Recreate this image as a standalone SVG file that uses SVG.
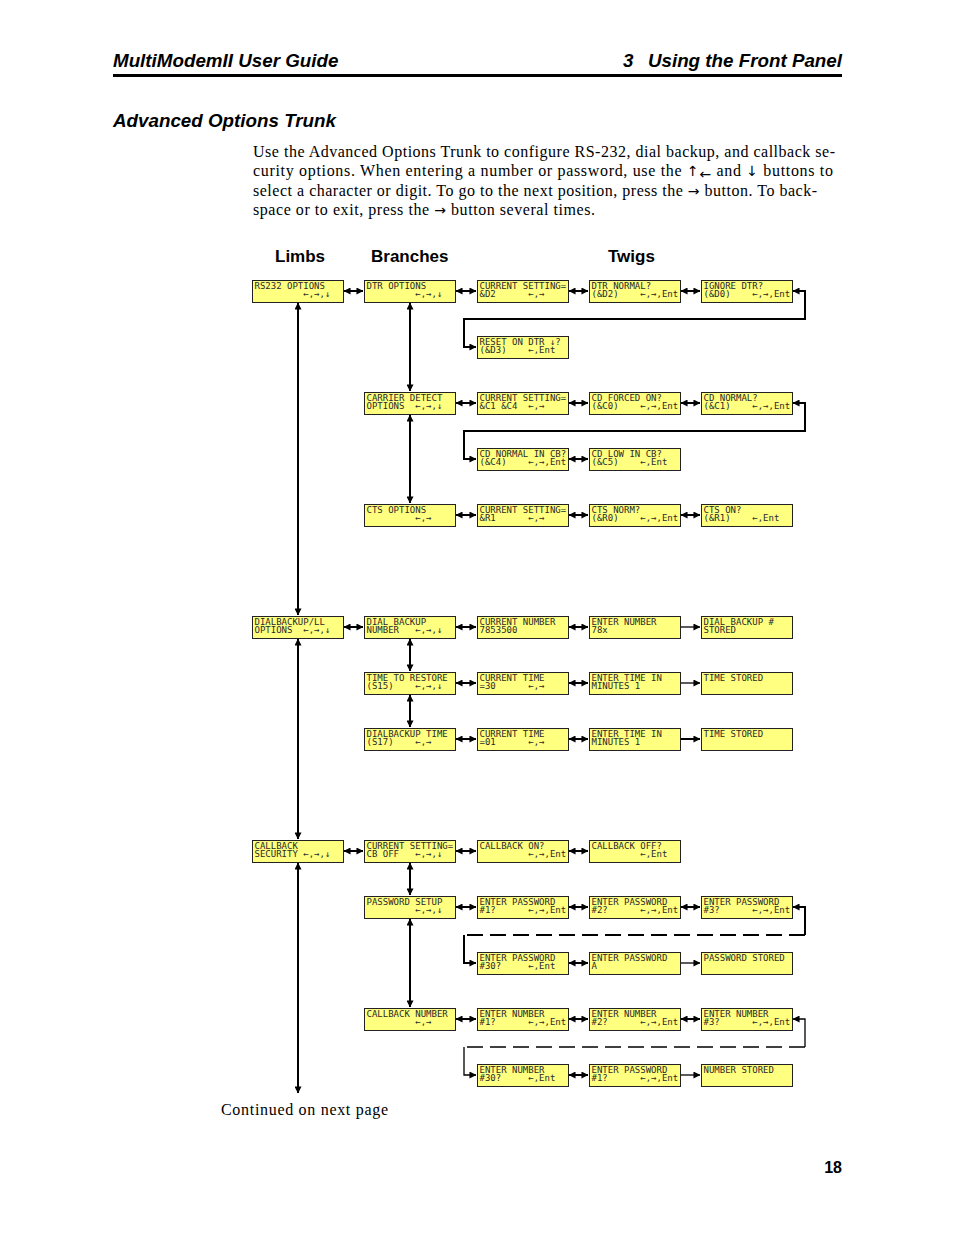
<svg xmlns="http://www.w3.org/2000/svg" width="954" height="1235" viewBox="0 0 954 1235" xml:space="preserve">
<defs>
<marker id="ah" viewBox="0 0 8 8" markerWidth="7" markerHeight="7" refX="7.5" refY="4" orient="auto-start-reverse" markerUnits="userSpaceOnUse"><path d="M0,0 L8,4 L0,8 z" fill="#000"/></marker>
<style>
.hd{font-family:"Liberation Sans",Arial,sans-serif;font-weight:bold;font-style:italic;font-size:18.8px;fill:#000}
.ch{font-family:"Liberation Sans",Arial,sans-serif;font-weight:bold;font-size:17px;fill:#000}
.p{font-family:"Liberation Serif","DejaVu Serif",serif;font-size:16px;fill:#000}
.ar{font-family:"DejaVu Sans",sans-serif;font-size:14px}
.b rect{fill:#ffff80;stroke:#222;stroke-width:1}
.b text{font-family:"DejaVu Sans Mono","Liberation Mono",monospace;font-size:9px;fill:#2a2a2a;white-space:pre}
.c line,.c path{stroke:#000;stroke-width:2;fill:none}
.c .thin{stroke-width:1.3}
.c .dash{stroke-dasharray:16 7}
.c .d{marker-start:url(#ah);marker-end:url(#ah)}
.c .s{marker-end:url(#ah)}
</style>
</defs>
<rect width="954" height="1235" fill="#fff"/>
<text class="hd" x="113" y="67">MultiModemII User Guide</text>
<text class="hd" x="623" y="67">3</text>
<text class="hd" x="842" y="67" text-anchor="end">Using the Front Panel</text>
<rect x="113" y="74" width="729" height="3" fill="#000"/>
<text class="hd" x="113" y="127">Advanced Options Trunk</text>
<text class="p" x="253" y="157" textLength="582" lengthAdjust="spacing">Use the Advanced Options Trunk to configure RS-232, dial backup, and callback se-</text>
<text class="p" x="253" y="176" textLength="580" lengthAdjust="spacing">curity options. When entering a number or password, use the <tspan class="ar">↑</tspan><tspan class="ar" dy="3">←</tspan><tspan dy="-3"> and </tspan><tspan class="ar">↓</tspan> buttons to</text>
<text class="p" x="253" y="196" textLength="564" lengthAdjust="spacing">select a character or digit. To go to the next position, press the <tspan class="ar">→</tspan> button. To back-</text>
<text class="p" x="253" y="215" textLength="342" lengthAdjust="spacing">space or to exit, press the <tspan class="ar">→</tspan> button several times.</text>
<text class="ch" x="275" y="262">Limbs</text>
<text class="ch" x="371" y="262">Branches</text>
<text class="ch" x="608" y="262">Twigs</text>

<g id="connectors" class="c">
<line class="d" x1="298" y1="303" x2="298" y2="615"/>
<line class="d" x1="298" y1="639" x2="298" y2="839"/>
<line class="d" x1="298" y1="863" x2="298" y2="1093"/>
<line class="d" x1="410" y1="303" x2="410" y2="391"/>
<line class="d" x1="410" y1="415" x2="410" y2="503"/>
<line class="d" x1="410" y1="639" x2="410" y2="671"/>
<line class="d" x1="410" y1="695" x2="410" y2="727"/>
<line class="d" x1="410" y1="863" x2="410" y2="895"/>
<line class="d" x1="410" y1="919" x2="410" y2="1007"/>
<line class="d" x1="344" y1="291" x2="363" y2="291"/>
<line class="d" x1="456" y1="291" x2="476" y2="291"/>
<line class="d" x1="569" y1="291" x2="588" y2="291"/>
<line class="d" x1="681" y1="291" x2="700" y2="291"/>
<path class="d" d="M793 291 H805 V319 H464 V347 H476"/>
<line class="d" x1="456" y1="403" x2="476" y2="403"/>
<line class="d" x1="569" y1="403" x2="588" y2="403"/>
<line class="d" x1="681" y1="403" x2="700" y2="403"/>
<path class="d" d="M793 403 H805 V431 H464 V459 H476"/>
<line class="d" x1="569" y1="459" x2="588" y2="459"/>
<line class="d" x1="456" y1="515" x2="476" y2="515"/>
<line class="d" x1="569" y1="515" x2="588" y2="515"/>
<line class="d" x1="681" y1="515" x2="700" y2="515"/>
<line class="d" x1="344" y1="627" x2="363" y2="627"/>
<line class="d" x1="456" y1="627" x2="476" y2="627"/>
<line class="d" x1="569" y1="627" x2="588" y2="627"/>
<line class="s thin" x1="681" y1="627" x2="700" y2="627"/>
<line class="d" x1="456" y1="683" x2="476" y2="683"/>
<line class="d" x1="569" y1="683" x2="588" y2="683"/>
<line class="s thin" x1="681" y1="683" x2="700" y2="683"/>
<line class="d" x1="456" y1="739" x2="476" y2="739"/>
<line class="d" x1="569" y1="739" x2="588" y2="739"/>
<line class="s" x1="681" y1="739" x2="700" y2="739"/>
<line class="d" x1="344" y1="851" x2="363" y2="851"/>
<line class="d" x1="456" y1="851" x2="476" y2="851"/>
<line class="d" x1="569" y1="851" x2="588" y2="851"/>
<line class="d" x1="456" y1="907" x2="476" y2="907"/>
<line class="d" x1="569" y1="907" x2="588" y2="907"/>
<line class="d" x1="681" y1="907" x2="700" y2="907"/>
<path class="s" d="M805 935 V907 H793"/>
<line class="dash" x1="805" y1="935" x2="464" y2="935"/>
<path class="s" d="M464 935 V963 H476"/>
<line class="d" x1="569" y1="963" x2="588" y2="963"/>
<line class="s thin" x1="681" y1="963" x2="700" y2="963"/>
<line class="d" x1="456" y1="1019" x2="476" y2="1019"/>
<line class="d" x1="569" y1="1019" x2="588" y2="1019"/>
<line class="d" x1="681" y1="1019" x2="700" y2="1019"/>
<path class="s thin" d="M805 1047 V1019 H793"/>
<line class="dash thin" x1="805" y1="1047" x2="464" y2="1047"/>
<path class="s thin" d="M464 1047 V1075 H476"/>
<line class="d" x1="569" y1="1075" x2="588" y2="1075"/>
<line class="s thin" x1="681" y1="1075" x2="700" y2="1075"/>
</g>

<g id="rs232" class="b"><rect x="252.5" y="280.5" width="91" height="22"/><text x="254.5" y="289">RS232 OPTIONS</text><text x="254.5" y="297">         ←,→,↓</text></g>
<g id="dtr" class="b"><rect x="364.5" y="280.5" width="91" height="22"/><text x="366.5" y="289">DTR OPTIONS</text><text x="366.5" y="297">         ←,→,↓</text></g>
<g id="dtr-cur" class="b"><rect x="477.5" y="280.5" width="91" height="22"/><text x="479.5" y="289">CURRENT SETTING=</text><text x="479.5" y="297">&amp;D2      ←,→</text></g>
<g id="dtr-norm" class="b"><rect x="589.5" y="280.5" width="91" height="22"/><text x="591.5" y="289">DTR NORMAL?</text><text x="591.5" y="297">(&amp;D2)    ←,→,Ent</text></g>
<g id="dtr-ign" class="b"><rect x="701.5" y="280.5" width="91" height="22"/><text x="703.5" y="289">IGNORE DTR?</text><text x="703.5" y="297">(&amp;D0)    ←,→,Ent</text></g>
<g id="dtr-reset" class="b"><rect x="477.5" y="336.5" width="91" height="22"/><text x="479.5" y="345">RESET ON DTR ↓?</text><text x="479.5" y="353">(&amp;D3)    ←,Ent</text></g>

<g id="cd" class="b"><rect x="364.5" y="392.5" width="91" height="22"/><text x="366.5" y="401">CARRIER DETECT</text><text x="366.5" y="409">OPTIONS  ←,→,↓</text></g>
<g id="cd-cur" class="b"><rect x="477.5" y="392.5" width="91" height="22"/><text x="479.5" y="401">CURRENT SETTING=</text><text x="479.5" y="409">&amp;C1 &amp;C4  ←,→</text></g>
<g id="cd-forced" class="b"><rect x="589.5" y="392.5" width="91" height="22"/><text x="591.5" y="401">CD FORCED ON?</text><text x="591.5" y="409">(&amp;C0)    ←,→,Ent</text></g>
<g id="cd-norm" class="b"><rect x="701.5" y="392.5" width="91" height="22"/><text x="703.5" y="401">CD NORMAL?</text><text x="703.5" y="409">(&amp;C1)    ←,→,Ent</text></g>
<g id="cd-normcb" class="b"><rect x="477.5" y="448.5" width="91" height="22"/><text x="479.5" y="457">CD NORMAL IN CB?</text><text x="479.5" y="465">(&amp;C4)    ←,→,Ent</text></g>
<g id="cd-lowcb" class="b"><rect x="589.5" y="448.5" width="91" height="22"/><text x="591.5" y="457">CD LOW IN CB?</text><text x="591.5" y="465">(&amp;C5)    ←,Ent</text></g>

<g id="cts" class="b"><rect x="364.5" y="504.5" width="91" height="22"/><text x="366.5" y="513">CTS OPTIONS</text><text x="366.5" y="521">         ←,→</text></g>
<g id="cts-cur" class="b"><rect x="477.5" y="504.5" width="91" height="22"/><text x="479.5" y="513">CURRENT SETTING=</text><text x="479.5" y="521">&amp;R1      ←,→</text></g>
<g id="cts-norm" class="b"><rect x="589.5" y="504.5" width="91" height="22"/><text x="591.5" y="513">CTS NORM?</text><text x="591.5" y="521">(&amp;R0)    ←,→,Ent</text></g>
<g id="cts-on" class="b"><rect x="701.5" y="504.5" width="91" height="22"/><text x="703.5" y="513">CTS ON?</text><text x="703.5" y="521">(&amp;R1)    ←,Ent</text></g>

<g id="dbk" class="b"><rect x="252.5" y="616.5" width="91" height="22"/><text x="254.5" y="625">DIALBACKUP/LL</text><text x="254.5" y="633">OPTIONS  ←,→,↓</text></g>
<g id="dbk-num" class="b"><rect x="364.5" y="616.5" width="91" height="22"/><text x="366.5" y="625">DIAL BACKUP</text><text x="366.5" y="633">NUMBER   ←,→,↓</text></g>
<g id="dbk-cur" class="b"><rect x="477.5" y="616.5" width="91" height="22"/><text x="479.5" y="625">CURRENT NUMBER</text><text x="479.5" y="633">7853500</text></g>
<g id="dbk-enter" class="b"><rect x="589.5" y="616.5" width="91" height="22"/><text x="591.5" y="625">ENTER NUMBER</text><text x="591.5" y="633">78x</text></g>
<g id="dbk-stored" class="b"><rect x="701.5" y="616.5" width="91" height="22"/><text x="703.5" y="625">DIAL BACKUP #</text><text x="703.5" y="633">STORED</text></g>
<g id="s15" class="b"><rect x="364.5" y="672.5" width="91" height="22"/><text x="366.5" y="681">TIME TO RESTORE</text><text x="366.5" y="689">(S15)    ←,→,↓</text></g>
<g id="s15-cur" class="b"><rect x="477.5" y="672.5" width="91" height="22"/><text x="479.5" y="681">CURRENT TIME</text><text x="479.5" y="689">=30      ←,→</text></g>
<g id="s15-enter" class="b"><rect x="589.5" y="672.5" width="91" height="22"/><text x="591.5" y="681">ENTER TIME IN</text><text x="591.5" y="689">MINUTES 1</text></g>
<g id="s15-stored" class="b"><rect x="701.5" y="672.5" width="91" height="22"/><text x="703.5" y="681">TIME STORED</text></g>
<g id="s17" class="b"><rect x="364.5" y="728.5" width="91" height="22"/><text x="366.5" y="737">DIALBACKUP TIME</text><text x="366.5" y="745">(S17)    ←,→</text></g>
<g id="s17-cur" class="b"><rect x="477.5" y="728.5" width="91" height="22"/><text x="479.5" y="737">CURRENT TIME</text><text x="479.5" y="745">=01      ←,→</text></g>
<g id="s17-enter" class="b"><rect x="589.5" y="728.5" width="91" height="22"/><text x="591.5" y="737">ENTER TIME IN</text><text x="591.5" y="745">MINUTES 1</text></g>
<g id="s17-stored" class="b"><rect x="701.5" y="728.5" width="91" height="22"/><text x="703.5" y="737">TIME STORED</text></g>

<g id="cb" class="b"><rect x="252.5" y="840.5" width="91" height="22"/><text x="254.5" y="849">CALLBACK</text><text x="254.5" y="857">SECURITY ←,→,↓</text></g>
<g id="cb-cur" class="b"><rect x="364.5" y="840.5" width="91" height="22"/><text x="366.5" y="849">CURRENT SETTING=</text><text x="366.5" y="857">CB OFF   ←,→,↓</text></g>
<g id="cb-on" class="b"><rect x="477.5" y="840.5" width="91" height="22"/><text x="479.5" y="849">CALLBACK ON?</text><text x="479.5" y="857">         ←,→,Ent</text></g>
<g id="cb-off" class="b"><rect x="589.5" y="840.5" width="91" height="22"/><text x="591.5" y="849">CALLBACK OFF?</text><text x="591.5" y="857">         ←,Ent</text></g>
<g id="pw" class="b"><rect x="364.5" y="896.5" width="91" height="22"/><text x="366.5" y="905">PASSWORD SETUP</text><text x="366.5" y="913">         ←,→,↓</text></g>
<g id="pw1" class="b"><rect x="477.5" y="896.5" width="91" height="22"/><text x="479.5" y="905">ENTER PASSWORD</text><text x="479.5" y="913">#1?      ←,→,Ent</text></g>
<g id="pw2" class="b"><rect x="589.5" y="896.5" width="91" height="22"/><text x="591.5" y="905">ENTER PASSWORD</text><text x="591.5" y="913">#2?      ←,→,Ent</text></g>
<g id="pw3" class="b"><rect x="701.5" y="896.5" width="91" height="22"/><text x="703.5" y="905">ENTER PASSWORD</text><text x="703.5" y="913">#3?      ←,→,Ent</text></g>
<g id="pw30" class="b"><rect x="477.5" y="952.5" width="91" height="22"/><text x="479.5" y="961">ENTER PASSWORD</text><text x="479.5" y="969">#30?     ←,Ent</text></g>
<g id="pwa" class="b"><rect x="589.5" y="952.5" width="91" height="22"/><text x="591.5" y="961">ENTER PASSWORD</text><text x="591.5" y="969">A</text></g>
<g id="pw-stored" class="b"><rect x="701.5" y="952.5" width="91" height="22"/><text x="703.5" y="961">PASSWORD STORED</text></g>
<g id="cbn" class="b"><rect x="364.5" y="1008.5" width="91" height="22"/><text x="366.5" y="1017">CALLBACK NUMBER</text><text x="366.5" y="1025">         ←,→</text></g>
<g id="cbn1" class="b"><rect x="477.5" y="1008.5" width="91" height="22"/><text x="479.5" y="1017">ENTER NUMBER</text><text x="479.5" y="1025">#1?      ←,→,Ent</text></g>
<g id="cbn2" class="b"><rect x="589.5" y="1008.5" width="91" height="22"/><text x="591.5" y="1017">ENTER NUMBER</text><text x="591.5" y="1025">#2?      ←,→,Ent</text></g>
<g id="cbn3" class="b"><rect x="701.5" y="1008.5" width="91" height="22"/><text x="703.5" y="1017">ENTER NUMBER</text><text x="703.5" y="1025">#3?      ←,→,Ent</text></g>
<g id="cbn30" class="b"><rect x="477.5" y="1064.5" width="91" height="22"/><text x="479.5" y="1073">ENTER NUMBER</text><text x="479.5" y="1081">#30?     ←,Ent</text></g>
<g id="cbn-pw1" class="b"><rect x="589.5" y="1064.5" width="91" height="22"/><text x="591.5" y="1073">ENTER PASSWORD</text><text x="591.5" y="1081">#1?      ←,→,Ent</text></g>
<g id="cbn-stored" class="b"><rect x="701.5" y="1064.5" width="91" height="22"/><text x="703.5" y="1073">NUMBER STORED</text></g>

<text class="p" x="221" y="1115" textLength="167" lengthAdjust="spacing">Continued on next page</text>
<text x="842" y="1173" text-anchor="end" style="font-family:'Liberation Sans',Arial,sans-serif;font-weight:bold;font-size:16px">18</text>
</svg>
